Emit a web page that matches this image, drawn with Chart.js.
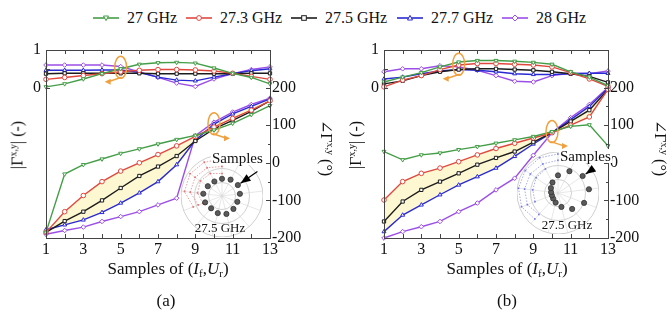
<!DOCTYPE html>
<html lang="en">
<head>
<meta charset="UTF-8">
<title>Reflection coefficient vs samples</title>
<script src="https://cdn.jsdelivr.net/npm/chart.js"></script>
<style>
  body { margin: 0; background: #fff; }
  #fig { position: relative; width: 668px; height: 323px; overflow: hidden; font-family: "Liberation Serif", "DejaVu Serif", serif; color: #111; }
  .abs { position: absolute; white-space: nowrap; }
  .inset { z-index: 1; }
  .main { z-index: 2; }
  .txt { z-index: 3; }
  .ytitle { font-size: 16px; transform: translate(-50%, -50%) rotate(-90deg); }
  .rtitle { font-size: 16px; transform: translate(-50%, -50%) rotate(90deg); }
  .xtitle { font-size: 17px; transform: translate(-50%, -50%); }
  .cap { font-size: 17px; transform: translate(-50%, -50%); }
  .samples { font-size: 15px; background: #fff; line-height: 14px; padding: 0 1px; }
  .freq { font-size: 13px; transform: translate(-50%, -50%); }
  sup { font-size: 10px; vertical-align: 6px; }
  sub { font-size: 11px; vertical-align: -3px; }
  .leg { font-size: 16px; display: flex; align-items: center; top: 9px; }
</style>
</head>
<body>
<div id="fig">
  <div class="abs inset" style="left:181px; top:155px;"><canvas id="insetA" width="82" height="82"></canvas></div>
  <div class="abs inset" style="left:517px; top:152px;"><canvas id="insetB" width="82" height="82"></canvas></div>
  <canvas id="chartA" class="abs main" style="left:0; top:0;" width="338" height="323"></canvas>
  <canvas id="chartB" class="abs main" style="left:338px; top:0;" width="330" height="323"></canvas>

  <div id="legend" class="txt"></div>

  <div class="abs txt ytitle" style="left:17px; top:145px;">|Γ<sup>x,y</sup>| (-)</div>
  <div class="abs txt rtitle" style="left:326px; top:148px;">∠Γ<sup>x,y</sup> (°)</div>
  <div class="abs txt ytitle" style="left:355px; top:145px;">|Γ<sup>x,y</sup>| (-)</div>
  <div class="abs txt rtitle" style="left:660px; top:148px;">∠Γ<sup>x,y</sup> (°)</div>

  <div class="abs txt xtitle" style="left:168px; top:269px;">Samples of (<i>I</i><sub>f</sub>,<i>U</i><sub>r</sub>)</div>
  <div class="abs txt xtitle" style="left:507px; top:269px;">Samples of (<i>I</i><sub>f</sub>,<i>U</i><sub>r</sub>)</div>
  <div class="abs txt cap" style="left:166px; top:301px;">(a)</div>
  <div class="abs txt cap" style="left:507px; top:301px;">(b)</div>

  <div class="abs txt samples" style="left:211px; top:151px;">Samples</div>
  <div class="abs txt samples" style="left:559px; top:149px;">Samples</div>
  <div class="abs txt freq" style="left:220px; top:228px;">27.5 GHz</div>
  <div class="abs txt freq" style="left:567px; top:225px;">27.5 GHz</div>
</div>

<script>
  // ---- data ----
  const samples = [1, 2, 3, 4, 5, 6, 7, 8, 9, 10, 11, 12, 13];
  const xTicks = [1, 3, 5, 7, 9, 11, 13];
  const magTicks = [0, 1];
  const phaseTicks = [-200, -100, 0, 100, 200];

  const seriesNames = ['27 GHz', '27.3 GHz', '27.5 GHz', '27.7 GHz', '28 GHz'];
  const seriesColors = ['#449e48', '#e0483e', '#1c1c1c', '#2a2ad4', '#9c4fe8'];
  const seriesMarkers = ['triangle', 'circle', 'rect', 'triangle', 'rectRot'];
  const markerRotation = [180, 0, 0, 0, 0];

  // (a) magnitude |Γ|
  const magA27  = [0.02, 0.10, 0.23, 0.37, 0.50, 0.62, 0.66, 0.67, 0.65, 0.52, 0.38, 0.27, 0.10];
  const magA273 = [0.22, 0.27, 0.32, 0.37, 0.42, 0.46, 0.48, 0.48, 0.47, 0.44, 0.38, 0.30, 0.22];
  const magA275 = [0.37, 0.38, 0.38, 0.38, 0.38, 0.38, 0.37, 0.37, 0.37, 0.37, 0.37, 0.38, 0.38];
  const magA277 = [0.46, 0.46, 0.46, 0.47, 0.47, 0.40, 0.28, 0.20, 0.18, 0.28, 0.37, 0.45, 0.50];
  const magA28  = [0.60, 0.60, 0.60, 0.60, 0.56, 0.42, 0.27, 0.12, 0.03, 0.23, 0.37, 0.48, 0.55];
  // (a) phase ∠Γ
  const phA27  = [-185, -30, -5, 10, 25, 37, 50, 62, 73, 87, 105, 128, 152];
  const phA273 = [-185, -130, -87, -50, -22, 0, 22, 45, 70, 95, 118, 140, 165];
  const phA275 = [-185, -155, -130, -100, -67, -35, -10, 18, 58, 90, 113, 137, 165];
  const phA277 = [-178, -165, -152, -132, -107, -80, -50, -5, 60, 103, 130, 150, 170];
  const phA28  = [-190, -180, -171, -156, -143, -130, -112, -94, 72, 108, 135, 155, 172];

  // (b) magnitude |Γ|
  const magB27  = [0.15, 0.28, 0.40, 0.55, 0.68, 0.72, 0.72, 0.70, 0.67, 0.62, 0.42, 0.28, 0.05];
  const magB273 = [0.02, 0.20, 0.32, 0.48, 0.60, 0.64, 0.64, 0.62, 0.60, 0.55, 0.40, 0.23, 0.03];
  const magB275 = [0.10, 0.18, 0.32, 0.42, 0.48, 0.50, 0.50, 0.48, 0.46, 0.42, 0.37, 0.30, 0.14];
  const magB277 = [0.23, 0.28, 0.37, 0.44, 0.48, 0.46, 0.42, 0.37, 0.35, 0.35, 0.37, 0.38, 0.38];
  const magB28  = [0.42, 0.50, 0.50, 0.58, 0.55, 0.46, 0.32, 0.17, 0.15, 0.32, 0.38, 0.37, 0.44];
  // (b) phase ∠Γ
  const phB27  = [30, 8, 21, 26, 35, 43, 52, 61, 70, 83, 97, 101, 45];
  const phB273 = [-99, -50, -28, -14, 3, 21, 38, 52, 66, 80, 100, 122, 195];
  const phB275 = [-156, -103, -72, -50, -28, -5, 13, 30, 55, 80, 110, 140, 195];
  const phB277 = [-183, -139, -112, -85, -59, -37, -14, 17, 50, 80, 115, 150, 198];
  const phB28  = [-200, -183, -170, -156, -130, -107, -72, -41, 20, 80, 120, 155, 200];

  // orange ring markers: sample, value, axis, arrow direction
  const ringsA = [{ x: 5, y: 0.54, axis: 'yM', dir: -1 }, { x: 10, y: 104, axis: 'yP', dir: 1 }];
  const ringsB = [{ x: 5, y: 0.62, axis: 'yM', dir: -1 }, { x: 10, y: 83, axis: 'yP', dir: 1 }];

  // inset polar plots (27.5 GHz): sample positions and scattered pattern
  const insetRings = [0, 0.33, 0.67, 1];
  const dotsA = [0.42, 0.45, 0.47, 0.44, 0.40, 0.42, 0.45, 0.43, 0.40, 0.44, 0.46, 0.42, 0.40];
  const dotsB = [0.43, 0.60, 0.73, 0.76, 0.68, 0.52, 0.35, 0.24, 0.18, 0.16, 0.17, 0.21, 0.29];
  const fanA1 = [0.90, null, null, null, null, null, null, null, null, 0.75, 0.92, 0.95, 0.93];
  const fanA2 = [0.72, null, null, null, null, null, null, null, null, 0.62, 0.78, 0.80, 0.78];
  const fanA3 = [0.55, null, null, null, null, null, null, null, null, 0.50, 0.60, 0.64, 0.62];
  const fanB1 = [0.95, null, null, null, null, null, null, null, 0.85, 0.95, 0.97, 0.97, 0.97];
  const fanB2 = [0.80, null, null, null, null, null, null, null, 0.70, 0.80, 0.82, 0.82, 0.80];
  const fanB3 = [null, null, null, null, null, null, null, null, null, 0.60, 0.62, 0.65, 0.66];

  // canvas text: try the named serif faces first, then the generic one
  const tickFamily = 'Liberation Serif, Times New Roman, Times, DejaVu Serif, serif';

  // ---- legend ----
  const legendLeft = [93, 186, 291, 397, 502];
  function markerSvg(i) {
    const c = seriesColors[i];
    let shape = '';
    if (seriesMarkers[i] === 'circle') shape = `<circle cx="13" cy="5" r="2.4" fill="#fff" stroke="${c}"/>`;
    else if (seriesMarkers[i] === 'rect') shape = `<rect x="10.7" y="2.7" width="4.6" height="4.6" fill="#fff" stroke="${c}"/>`;
    else if (seriesMarkers[i] === 'rectRot') shape = `<polygon points="13,2 16,5 13,8 10,5" fill="#fff" stroke="${c}"/>`;
    else if (markerRotation[i] === 180) shape = `<polygon points="10.5,3 15.5,3 13,7.6" fill="#fff" stroke="${c}"/>`;
    else shape = `<polygon points="10.5,7 15.5,7 13,2.4" fill="#fff" stroke="${c}"/>`;
    return `<svg width="26" height="10"><line x1="0" y1="5" x2="26" y2="5" stroke="${c}" stroke-width="1.6"/>${shape}</svg>`;
  }
  const legend = document.getElementById('legend');
  seriesNames.forEach((n, i) => {
    const d = document.createElement('div');
    d.className = 'abs leg';
    d.style.left = legendLeft[i] + 'px';
    d.innerHTML = markerSvg(i) + '<span style="margin-left:8px">' + n + '</span>';
    legend.appendChild(d);
  });

  // ---- main charts ----
  function lineSet(i, vals, axis, extra) {
    return Object.assign({
      label: seriesNames[i],
      data: samples.map((s, k) => ({ x: s, y: vals[k] })),
      yAxisID: axis,
      borderColor: seriesColors[i],
      backgroundColor: seriesColors[i],
      borderWidth: 1.4,
      pointStyle: seriesMarkers[i],
      pointRotation: markerRotation[i],
      pointRadius: 2.3,
      pointBorderWidth: 1,
      pointBackgroundColor: '#fff',
      pointBorderColor: seriesColors[i],
      tension: 0,
      fill: false,
      clip: 5
    }, extra || {});
  }

  function drawRing(ctx, cx, cy, dir) {
    ctx.strokeStyle = '#f0a03c';
    ctx.fillStyle = '#f0a03c';
    ctx.lineWidth = 1.5;
    ctx.beginPath();
    ctx.ellipse(cx, cy, 6, 11, 0, 0, Math.PI * 2);
    ctx.stroke();
    const y0 = cy + 11;
    ctx.beginPath();
    ctx.moveTo(cx - dir, y0 - 1);
    ctx.lineTo(cx + dir * 11, y0 + 3);
    ctx.stroke();
    const hx = cx + dir * 16, hy = y0 + 3.5;
    ctx.beginPath();
    ctx.moveTo(hx, hy);
    ctx.lineTo(hx - dir * 6, hy - 3);
    ctx.lineTo(hx - dir * 6, hy + 3);
    ctx.closePath();
    ctx.fill();
  }

  function framePlugin(rings) {
    return {
      id: 'frame',
      afterDatasetsDraw(chart) {
        const { ctx, chartArea: a, scales } = chart;
        ctx.save();
        ctx.strokeStyle = '#444';
        ctx.lineWidth = 1;
        ctx.beginPath();
        samples.forEach(s => {
          const px = Math.round(scales.x.getPixelForValue(s)) + 0.5;
          ctx.moveTo(px, a.bottom); ctx.lineTo(px, a.bottom - 4);
          ctx.moveTo(px, a.top); ctx.lineTo(px, a.top + 4);
        });
        [0, 0.5, 1].forEach(v => {
          const py = Math.round(scales.yM.getPixelForValue(v)) + 0.5;
          ctx.moveTo(a.left, py); ctx.lineTo(a.left + 4, py);
        });
        for (let v = -200; v <= 200; v += 50) {
          const py = Math.round(scales.yP.getPixelForValue(v)) + 0.5;
          ctx.moveTo(a.right, py); ctx.lineTo(a.right - (v % 100 === 0 ? 4 : 2), py);
        }
        ctx.stroke();
        ctx.strokeRect(Math.round(a.left) + 0.5, Math.round(a.top) + 0.5,
          Math.round(a.right - a.left), Math.round(a.bottom - a.top));
        rings.forEach(r => drawRing(ctx, scales.x.getPixelForValue(r.x), scales[r.axis].getPixelForValue(r.y), r.dir));
        ctx.restore();
      }
    };
  }

  function buildChart(id, mags, phases, rings, rightWidth) {
    const datasets = [];
    mags.forEach((m, i) => datasets.push(lineSet(i, m, 'yM')));
    phases.forEach((p, i) => datasets.push(lineSet(i, p, 'yP',
      i === 1 ? { fill: 8, backgroundColor: 'rgba(253, 247, 205, 0.9)' } : {})));
    const tickFont = () => ({ family: tickFamily, size: 16 });
    new Chart(document.getElementById(id), {
      type: 'line',
      data: { datasets },
      options: {
        responsive: false,
        animation: false,
        events: [],
        font: { family: tickFamily, size: 16 },
        layout: { padding: { top: 50, left: 0, right: 0, bottom: 0 } },
        plugins: { legend: { display: false }, tooltip: { enabled: false }, filler: { drawTime: 'beforeDatasetsDraw' } },
        scales: {
          x: {
            type: 'linear', min: 1, max: 13,
            afterBuildTicks: s => { s.ticks = xTicks.map(v => ({ value: v })); },
            afterFit: s => { s.height = 85; },
            grid: { display: false, drawTicks: false },
            border: { display: false },
            ticks: { font: tickFont(), color: '#111', padding: 2, maxRotation: 0 }
          },
          yM: {
            type: 'linear', position: 'left', min: -4, max: 1,
            afterBuildTicks: s => { s.ticks = magTicks.map(v => ({ value: v })); },
            afterFit: s => { s.width = 46; },
            grid: { display: false, drawTicks: false },
            border: { display: false },
            ticks: { font: tickFont(), color: '#111', padding: 5 }
          },
          yP: {
            type: 'linear', position: 'right', min: -200, max: 300,
            afterBuildTicks: s => { s.ticks = phaseTicks.map(v => ({ value: v })); },
            afterFit: s => { s.width = rightWidth; },
            grid: { display: false, drawTicks: false },
            border: { display: false },
            ticks: { font: tickFont(), color: '#111', padding: 2 }
          }
        }
      },
      plugins: [framePlugin(rings)]
    });
  }

  // ---- insets ----
  function insetPlugin(arrowIdx, tailVal, tipVal) {
    return {
      id: 'insetDeco',
      beforeDraw(chart) {
        const r = chart.scales.r, ctx = chart.ctx;
        ctx.save();
        ctx.fillStyle = '#fff';
        ctx.beginPath();
        ctx.arc(r.xCenter, r.yCenter, r.drawingArea, 0, Math.PI * 2);
        ctx.fill();
        ctx.restore();
      },
      afterDraw(chart) {
        const r = chart.scales.r, ctx = chart.ctx;
        const tail = r.getPointPositionForValue(arrowIdx, tailVal);
        const tip = r.getPointPositionForValue(arrowIdx, tipVal);
        const ang = Math.atan2(tip.y - tail.y, tip.x - tail.x);
        ctx.save();
        ctx.fillStyle = '#000';
        ctx.strokeStyle = '#000';
        ctx.lineWidth = 1.2;
        ctx.beginPath();
        ctx.moveTo(tail.x, tail.y);
        ctx.lineTo(tip.x, tip.y);
        ctx.stroke();
        ctx.beginPath();
        ctx.moveTo(tip.x, tip.y);
        ctx.lineTo(tip.x - 10 * Math.cos(ang) + 4 * Math.sin(ang), tip.y - 10 * Math.sin(ang) - 4 * Math.cos(ang));
        ctx.lineTo(tip.x - 10 * Math.cos(ang) - 4 * Math.sin(ang), tip.y - 10 * Math.sin(ang) + 4 * Math.cos(ang));
        ctx.closePath();
        ctx.fill();
        ctx.restore();
      }
    };
  }

  function buildInset(id, dots, fans, fanColor, arrowIdx, tailVal, tipVal) {
    const datasets = [{
      data: dots, showLine: false, pointRadius: 2.6,
      pointBackgroundColor: '#5a5a5a', pointBorderColor: '#333', pointBorderWidth: 0.8,
      borderWidth: 0, fill: false
    }];
    fans.forEach(f => datasets.push({
      data: f, borderColor: fanColor, borderWidth: 0.8, borderDash: [1.5, 1.5],
      pointRadius: 1, pointBackgroundColor: fanColor, pointBorderWidth: 0,
      fill: false, spanGaps: false
    }));
    new Chart(document.getElementById(id), {
      type: 'radar',
      data: { labels: dots.map(() => ''), datasets },
      options: {
        responsive: false,
        animation: false,
        events: [],
        layout: { padding: 0 },
        plugins: { legend: { display: false }, tooltip: { enabled: false } },
        scales: {
          r: {
            min: 0, max: 1,
            afterBuildTicks: s => { s.ticks = insetRings.map(v => ({ value: v })); },
            ticks: { display: false },
            grid: { circular: true, color: '#c4c4c4', lineWidth: 0.8 },
            angleLines: { color: '#d6d6d6', lineWidth: 0.6 },
            pointLabels: { display: false }
          }
        }
      },
      plugins: [insetPlugin(arrowIdx, tailVal, tipVal)]
    });
  }

  function drawAll() {
    buildChart('chartA', [magA27, magA273, magA275, magA277, magA28],
      [phA27, phA273, phA275, phA277, phA28], ringsA, 68);
    buildChart('chartB', [magB27, magB273, magB275, magB277, magB28],
      [phB27, phB273, phB275, phB277, phB28], ringsB, 60);
    buildInset('insetA', dotsA, [fanA1, fanA2, fanA3], 'rgba(225, 70, 70, 0.65)', 2, 1.05, 0.55);
    buildInset('insetB', dotsB, [fanB1, fanB2, fanB3], 'rgba(70, 80, 220, 0.6)', 2, 1.05, 0.82);
  }

  // wait for the serif face to be usable by canvas text, then draw
  Promise.race([
    document.fonts.load('16px "Liberation Serif"', '0123456789'),
    new Promise(res => setTimeout(res, 400))
  ]).then(drawAll, drawAll);
</script>
</body>
</html>
